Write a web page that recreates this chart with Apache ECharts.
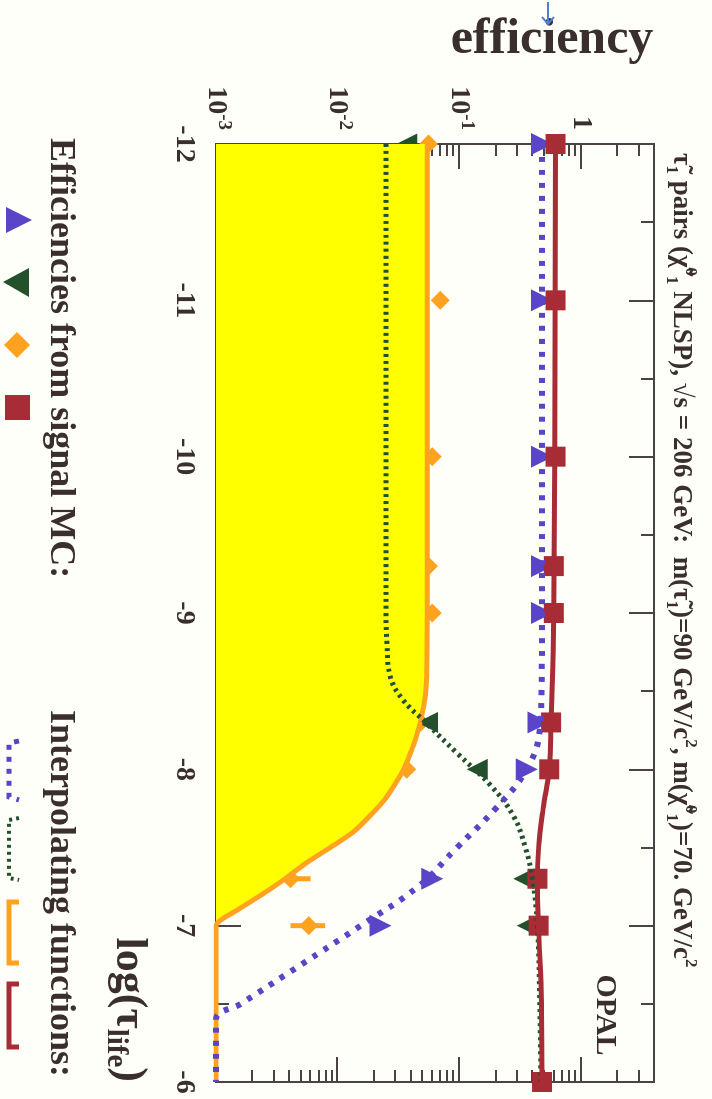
<!DOCTYPE html>
<html>
<head>
<meta charset="utf-8">
<script src="https://cdn.jsdelivr.net/npm/echarts@6/dist/echarts.min.js"></script>
<style>
html,body{margin:0;padding:0;width:712px;height:1099px;overflow:hidden;background:#fffffa;}
#wrap{position:absolute;left:0;top:0;width:1099px;height:712px;transform-origin:0 0;transform:translate(712px,0) rotate(90deg);}
</style>
</head>
<body>
<div id="wrap"></div>
<script>
// ---- data (log10 of lifetime vs efficiency) ----
const tauMC = [-12, -11, -10, -9.3, -9, -8.3, -8, -7.3, -7, -6];
const effPurpleMC = [0.48, 0.48, 0.48, 0.48, 0.48, 0.45, 0.36, 0.060, 0.0225, null];
const effGreenMC  = [0.037, 0.040, 0.036, 0.041, 0.041, 0.055, 0.141, 0.34, 0.363, null];
const effOrangeMC = [0.056, 0.070, 0.060, 0.056, 0.060, 0.048, 0.037, 0.0041, 0.0058, null];
const effOrangeLo = [null, null, null, null, null, null, null, 0.0020, 0.0041, null];
const effOrangeHi = [null, null, null, null, null, null, null, 0.0060, 0.0079, null];
const effRedMC    = [0.62, 0.62, 0.62, 0.60, 0.60, 0.57, 0.55, 0.44, 0.45, 0.48];

const tauOrangeFn = [-12, -9, -8.6, -8.4, -8.2, -8.0, -7.8, -7.6, -7.4, -7.3, -7.2, -7.1, -7.0, -6.5, -6];
const effOrangeFn = [0.0546, 0.0546, 0.0540, 0.051, 0.044, 0.035, 0.024, 0.0135, 0.0055, 0.0037, 0.0024, 0.0015, 0.001, 0.001, 0.001];

const tauGreenFn = [-12, -9.3, -9, -8.8, -8.6, -8.45, -8.3, -8.1, -7.9, -7.7, -7.5, -7.3, -7.0, -6.5, -6];
const effGreenFn = [0.025, 0.025, 0.025, 0.0255, 0.027, 0.034, 0.053, 0.097, 0.18, 0.28, 0.35, 0.40, 0.44, 0.46, 0.47];

const tauPurpleFn = [-12, -9, -8.5, -8.25, -8.0, -7.75, -7.5, -7.25, -7.0, -6.75, -6.5, -6.4, -6];
const effPurpleFn = [0.48, 0.48, 0.475, 0.46, 0.36, 0.20, 0.096, 0.046, 0.0155, 0.0050, 0.0016, 0.001, 0.001];

const tauRedFn = [-12, -9, -8.3, -8, -7.75, -7.5, -7.25, -7, -6.5, -6];
const effRedFn = [0.62, 0.60, 0.57, 0.55, 0.49, 0.45, 0.44, 0.45, 0.475, 0.48];

const effMajorTicks = [0.001, 0.01, 0.1, 1];
const effMinorTicks = [0.002,0.003,0.004,0.005,0.006,0.007,0.008,0.009,
                       0.02,0.03,0.04,0.05,0.06,0.07,0.08,0.09,
                       0.2,0.3,0.4,0.5,0.6,0.7,0.8,0.9, 2,3,4];

// ---- styles ----
const FONT = "'Liberation Serif','Times New Roman',serif";
const TXT = '#3a2e2e';
const AX = '#4a4244';
const C_PURPLE = '#5a44c8';
const C_GREEN = '#24502c';
const C_ORANGE = '#ffa21f';
const C_YELLOW = '#ffff00';
const C_RED = '#a82c36';

function zip(a, b) { return a.map((v, i) => [v, b[i]]); }
function zipNN(a, b) { return a.map((v, i) => [v, b[i]]).filter(p => p[1] != null); }

const chart = echarts.init(document.getElementById('wrap'), null, {renderer: 'canvas'});

const tickLine = {color: AX, width: 2};
function yAx(pos, ticks, len, labels) {
  return {
    type: 'log', logBase: 10, min: 0.001, max: 4, position: pos,
    axisLine: {show: true, onZero: false, lineStyle: {color: AX, width: 2}},
    axisTick: {show: true, inside: true, length: len, customValues: ticks, lineStyle: tickLine},
    minorTick: {show: false},
    splitLine: {show: false},
    axisLabel: labels ? {
      show: true, margin: 14, customValues: effMajorTicks,
      formatter: function (v) {
        const e = Math.round(Math.log10(v));
        return e === 0 ? '{m|1}' : '{m|10}{e|' + e + '}';
      },
      rich: {
        m: {fontFamily: FONT, fontWeight: 'bold', fontSize: 28, lineHeight: 34, color: TXT},
        e: {fontFamily: FONT, fontWeight: 'bold', fontSize: 19, lineHeight: 19, verticalAlign: 'top', color: TXT}
      }
    } : {show: false}
  };
}
function xAx(pos, labels) {
  return {
    type: 'value', min: -12, max: -6, interval: 1, position: pos,
    axisLine: {show: true, onZero: false, lineStyle: {color: AX, width: 2}},
    axisTick: {show: true, inside: true, length: 25, lineStyle: tickLine},
    minorTick: {show: true, splitNumber: 2, length: 13, lineStyle: tickLine},
    splitLine: {show: false},
    axisLabel: labels ? {show: true, margin: 18, fontFamily: FONT, fontWeight: 'bold', fontSize: 28, color: TXT} : {show: false}
  };
}

const sym = (s) => ({fontFamily: FONT, fontWeight: 'bold', color: TXT, ...s});

chart.setOption({
  backgroundColor: '#fffffa',
  animation: false,
  title: {
    left: 148, top: 8,
    text: '{n|τ̃}{sub|1}{n| pairs (χ̃}{sup|0}{sub|1}{n| NLSP), √s = 206 GeV:  m(τ̃}{sub|1}{n|)=90 GeV/c}{sup|2}{n|, m(χ̃}{sup|0}{sub|1}{n|)=70. GeV/c}{sup|2}',
    textStyle: {
      rich: {
        n: sym({fontSize: 27, lineHeight: 36}),
        sub: sym({fontSize: 17, lineHeight: 17, verticalAlign: 'bottom'}),
        sup: sym({fontSize: 17, lineHeight: 17, verticalAlign: 'top'})
      }
    }
  },
  grid: {left: 144, right: 17, top: 58, bottom: 216, show: false},
  xAxis: [xAx('bottom', true), xAx('top', false)],
  yAxis: [
    yAx('left', effMajorTicks, 25, true),
    yAx('left', effMinorTicks, 12, false),
    yAx('right', effMajorTicks, 25, false),
    yAx('right', effMinorTicks, 12, false)
  ],
  graphic: [
    {type: 'text', x: 40, y: 160, rotation: Math.PI / 2,
     style: {text: 'efficiency', align: 'center', verticalAlign: 'middle', font: "bold 50px 'Liberation Serif', serif", fill: TXT}},
    {type: 'text', x: 1082, y: 584,
     style: {text: '{a|log(τ}{s|life}{a|)}', align: 'right', verticalAlign: 'middle',
       rich: {
         a: {fontFamily: FONT, fontWeight: 'bold', fontSize: 44, lineHeight: 54, fill: TXT},
         s: {fontFamily: FONT, fontWeight: 'bold', fontSize: 29, lineHeight: 29, verticalAlign: 'bottom', fill: TXT}
       }}},
    {type: 'text', x: 1015, y: 107,
     style: {text: 'OPAL', align: 'center', verticalAlign: 'middle', font: "bold 30px 'Liberation Serif', serif", fill: TXT}},
    {type: 'text', x: 138, y: 652,
     style: {text: 'Efficiencies from signal MC:', align: 'left', verticalAlign: 'middle', font: "bold 36px 'Liberation Serif', serif", fill: TXT}},
    {type: 'text', x: 710, y: 652,
     style: {text: 'Interpolating functions:', align: 'left', verticalAlign: 'middle', font: "bold 36px 'Liberation Serif', serif", fill: TXT}},
    // legend markers
    {type: 'polygon', shape: {points: [[220, 680], [233, 706], [207, 706]]}, style: {fill: C_PURPLE}},
    {type: 'polygon', shape: {points: [[268, 683], [297, 683], [282, 709]]}, style: {fill: C_GREEN}},
    {type: 'polygon', shape: {points: [[345, 682], [358, 695], [345, 708], [332, 695]]}, style: {fill: C_ORANGE}},
    {type: 'rect', shape: {x: 395, y: 682, width: 25, height: 25}, style: {fill: C_RED}},
    // legend line keys
    {type: 'polyline', shape: {points: [[741, 693], [743, 703], [797, 703], [800, 693]]}, style: {stroke: C_PURPLE, lineWidth: 5, lineDash: [5, 7], fill: null}},
    {type: 'polyline', shape: {points: [[818, 693], [820, 703], [878, 703], [880, 693]]}, style: {stroke: C_GREEN, lineWidth: 4, lineDash: [3, 4], fill: null}},
    {type: 'polyline', shape: {points: [[902, 693], [902, 703], [963, 703], [963, 693]]}, style: {stroke: C_ORANGE, lineWidth: 5, fill: null}},
    {type: 'polyline', shape: {points: [[984, 693], [984, 703], [1047, 703], [1047, 693]]}, style: {stroke: C_RED, lineWidth: 5, fill: null}},
    // stray blue arrow from scan
    {type: 'polyline', shape: {points: [[2, 164], [24, 164]]}, style: {stroke: '#4f7fd4', lineWidth: 2, fill: null}},
    {type: 'polyline', shape: {points: [[17, 158], [24, 164], [17, 170]]}, style: {stroke: '#4f7fd4', lineWidth: 2, fill: null}}
  ],
  series: [
    {name: 'orange function', type: 'line', data: zip(tauOrangeFn, effOrangeFn), symbol: 'none',
     smooth: 0.2,
     lineStyle: {color: C_ORANGE, width: 5}, areaStyle: {color: C_YELLOW, opacity: 1, origin: 'start'}},
    {name: 'green function', type: 'line', data: zip(tauGreenFn, effGreenFn), symbol: 'none',
     smooth: 0.4,
     lineStyle: {color: C_GREEN, width: 5, type: [3, 4]}},
    {name: 'purple function', type: 'line', data: zip(tauPurpleFn, effPurpleFn), symbol: 'none',
     smooth: 0.4,
     lineStyle: {color: C_PURPLE, width: 6, type: [5, 8]}},
    {name: 'red function', type: 'line', data: zip(tauRedFn, effRedFn), symbol: 'none',
     smooth: 0.4,
     lineStyle: {color: C_RED, width: 5}},
    {name: 'orange errors', type: 'custom',
     data: tauMC.map((t, i) => [t, effOrangeLo[i], effOrangeHi[i]]).filter(d => d[1] != null),
     renderItem: function (params, api) {
       const a = api.coord([api.value(0), api.value(1)]);
       const b = api.coord([api.value(0), api.value(2)]);
       return {type: 'line', shape: {x1: a[0], y1: a[1], x2: b[0], y2: b[1]}, style: {stroke: C_ORANGE, lineWidth: 5}};
     }},
    {name: 'orange MC', type: 'scatter', data: zipNN(tauMC, effOrangeMC), symbol: 'diamond', symbolSize: 19,
     itemStyle: {color: C_ORANGE, opacity: 1}},
    {name: 'green MC', type: 'scatter', data: zipNN(tauMC, effGreenMC), symbol: 'triangle', symbolRotate: 180, symbolSize: 21,
     itemStyle: {color: C_GREEN, opacity: 1}},
    {name: 'purple MC', type: 'scatter', data: zipNN(tauMC, effPurpleMC), symbol: 'triangle', symbolSize: 22,
     itemStyle: {color: C_PURPLE, opacity: 1}},
    {name: 'red MC', type: 'scatter', data: zipNN(tauMC, effRedMC), symbol: 'rect', symbolSize: 20,
     itemStyle: {color: C_RED, opacity: 1}}
  ]
});
</script>
</body>
</html>
